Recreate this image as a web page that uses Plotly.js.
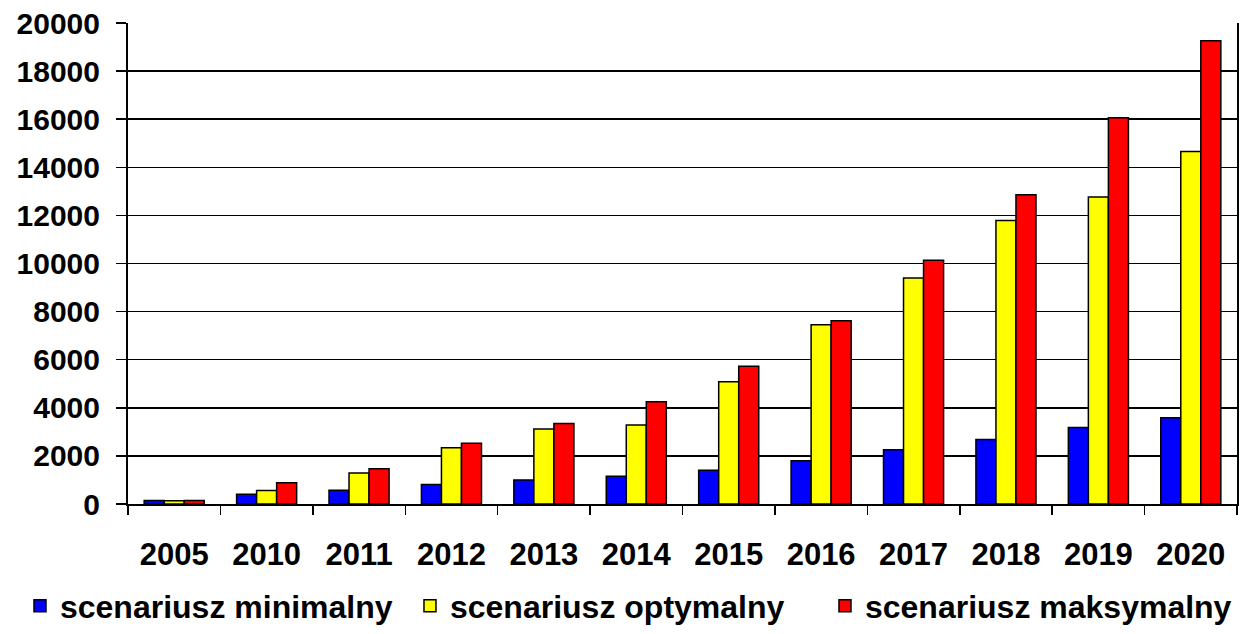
<!DOCTYPE html>
<html>
<head>
<meta charset="utf-8">
<script src="https://cdn.plot.ly/plotly-3.0.1.min.js"></script>
<style>html,body{margin:0;padding:0;background:#fff;}#chart{width:1248px;height:634px;}</style>
</head>
<body>
<div id="chart"></div>
<script>
var years = ['2005','2010','2011','2012','2013','2014','2015','2016','2017','2018','2019','2020'];
var seriesNames = ['scenariusz minimalny','scenariusz optymalny','scenariusz maksymalny'];
var minimalny = [150, 410, 575, 810, 1000, 1150, 1400, 1800, 2260, 2680, 3180, 3590];
var optymalny = [140, 560, 1290, 2340, 3120, 3280, 5080, 7450, 9400, 11790, 12760, 14660];
var maksymalny = [150, 880, 1470, 2530, 3350, 4250, 5730, 7620, 10140, 12860, 16060, 19260];
var yTicks = [0, 2000, 4000, 6000, 8000, 10000, 12000, 14000, 16000, 18000, 20000];

var colors = ['#0000FF', '#FFFF00', '#FF0000'];
var legendWidths = [345, 370, 368];
var allValues = [minimalny, optymalny, maksymalny];

var font = {family: 'Liberation Sans, Arial, sans-serif', color: '#000', weight: 'bold'};

var traces = allValues.map(function(vals, i) {
  return {
    type: 'bar',
    name: seriesNames[i],
    x: years,
    y: vals,
    marker: {color: colors[i], line: {color: '#000', width: 1.5}},
    legendwidth: legendWidths[i],
    hoverinfo: 'x+y+name'
  };
});

var layout = {
  width: 1248,
  height: 634,
  margin: {l: 128, r: 11, t: 23, b: 130, autoexpand: false},
  paper_bgcolor: '#fff',
  plot_bgcolor: '#fff',
  barmode: 'group',
  bargap: 0.35,
  bargroupgap: 0,
  showlegend: true,
  legend: {
    orientation: 'h',
    x: -0.0974,
    xanchor: 'left',
    y: -0.269,
    yanchor: 'bottom',
    font: Object.assign({size: 32}, font),
    bgcolor: 'rgba(0,0,0,0)',
    traceorder: 'normal'
  },
  xaxis: {
    type: 'category',
    automargin: false,
    tickson: 'boundaries',
    ticks: 'outside',
    ticklen: 9,
    tickwidth: 1.5,
    tickcolor: '#000',
    showline: true,
    linecolor: '#000',
    linewidth: 2,
    showgrid: false,
    tickfont: Object.assign({size: 31}, font),
    ticklabelstandoff: 22,
    fixedrange: true
  },
  yaxis: {
    automargin: false,
    range: [0, 20000],
    tickvals: yTicks,
    ticktext: yTicks.map(String),
    ticks: 'outside',
    ticklen: 10,
    tickwidth: 1.5,
    tickcolor: '#000',
    showline: true,
    linecolor: '#000',
    linewidth: 2,
    mirror: true,
    showgrid: true,
    gridcolor: '#000',
    gridwidth: 1.5,
    zeroline: false,
    tickfont: Object.assign({size: 30}, font),
    ticklabelstandoff: 10,
    fixedrange: true
  }
};

Plotly.newPlot('chart', traces, layout, {displayModeBar: false, staticPlot: true});
</script>
</body>
</html>
